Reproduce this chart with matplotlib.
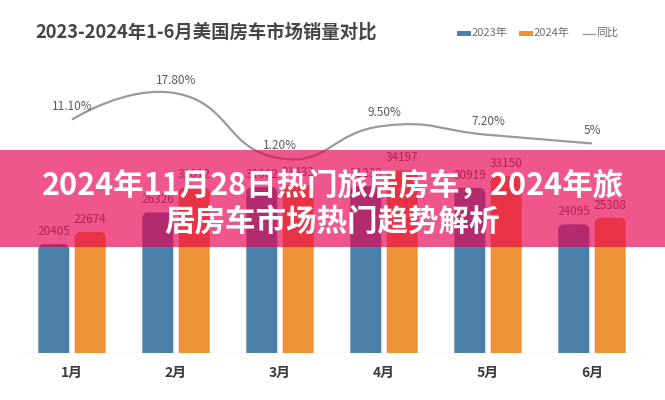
import numpy as np
import matplotlib.pyplot as plt
from matplotlib.patches import FancyBboxPatch, Rectangle, PathPatch
from matplotlib.path import Path
from matplotlib.transforms import Affine2D
from matplotlib.lines import Line2D

plt.rcParams['font.family'] = ['Noto Sans CJK SC', 'DejaVu Sans']

# data
months = ['1月', '2月', '3月', '4月', '5月', '6月']
sales_2023 = [20405, 26326, 31062, 31230, 30919, 24095]
sales_2024 = [22674, 31012, 31433, 34197, 33150, 25308]
yoy = [11.1, 17.8, 1.2, 9.5, 7.2, 5.0]
yoy_labels = ['11.10%', '17.80%', '1.20%', '9.50%', '7.20%', '5%']

blue = '#4b7fa8'
orange = '#ee9238'

W, H = 665, 400
fig = plt.figure(figsize=(W / 100, H / 100), dpi=100)
# pixel coordinates with origin at top-left
px = Affine2D().scale(1 / W, -1 / H).translate(0, 1) + fig.transFigure

ax_box = [20 / W, 47 / H, 624 / W, 320.4 / H]
ax = fig.add_axes(ax_box)
ax.set_xlim(-0.5, 5.5)
ax.set_ylim(0, 60000)
for s in ax.spines.values():
    s.set_visible(False)
ax.set_yticks([])
ax.set_xticks(range(len(months)))
ax.set_xticklabels(months, fontsize=10, fontweight='bold', color='#3a3a3a')
ax.tick_params(axis='x', length=0, pad=9)
ax.axhline(0, color='#e4e4e4', lw=1, zorder=1)

# bars with rounded tops
bw = 0.298
off = 0.175
px_x = 624 / 6
px_y = 320.4 / 60000
r = 6 / px_x
asp = px_x / px_y
for i in range(len(months)):
    for vals, sign, col in [(sales_2023, -1, blue), (sales_2024, 1, orange)]:
        x0 = i + sign * off - bw / 2
        v = vals[i]
        p = FancyBboxPatch((x0, -3000), bw, v + 3000,
                           boxstyle=f"round,pad=0,rounding_size={r}",
                           mutation_aspect=asp, fc=col, ec='none', zorder=2)
        ax.add_patch(p)
        ax.annotate(str(v), (i + sign * off, v), xytext=(0, 9),
                    textcoords='offset points', ha='center', va='center',
                    fontsize=8.5, color='#5a5a5a')

# year-on-year line, smoothed like the original
ax2 = fig.add_axes(ax_box)
ax2.set_xlim(-0.5, 5.5)
ax2.set_ylim(-48.5, 33.3)
ax2.axis('off')
ax2.patch.set_alpha(0)

pts = ax2.transData.transform(np.column_stack([np.arange(len(yoy)), yoy]))
smooth = 0.5
cp_in, cp_out = [], []
for k in range(len(pts)):
    p = pts[k]
    if 0 < k < len(pts) - 1:
        prv, nxt = pts[k - 1], pts[k + 1]
        v = nxt - prv
        d0 = np.hypot(*(p - prv))
        d1 = np.hypot(*(nxt - p))
        ratio = d1 / (d0 + d1)
        cp_in.append(p - v * smooth * (1 - ratio))
        cp_out.append(p + v * smooth * ratio)
    else:
        cp_in.append(p)
        cp_out.append(p)
verts = [pts[0]]
codes = [Path.MOVETO]
for k in range(len(pts) - 1):
    verts += [cp_out[k], cp_in[k + 1], pts[k + 1]]
    codes += [Path.CURVE4] * 3
verts = ax2.transData.inverted().transform(np.array(verts))
ax2.add_patch(PathPatch(Path(verts, codes), fc='none', ec='#9a9a9a', lw=1.6))
for i, (v, lab) in enumerate(zip(yoy, yoy_labels)):
    ax2.annotate(lab, (i, v), xytext=(0, 9.5), textcoords='offset points',
                 ha='center', va='center', fontsize=8.5, color='#5a5a5a')

# title and legend
fig.text(35, 32, '2023-2024年1-6月美国房车市场销量对比', transform=px,
         fontsize=13.2, fontweight='bold', color='#454545', va='center')
leg_items = [(457, blue, '2023年'), (519, orange, '2024年')]
for x, col, lab in leg_items:
    fig.add_artist(Rectangle((x, 36), 14, -5, transform=px, fc=col, ec='none'))
    fig.text(x + 14.5, 33, lab, transform=px, fontsize=8, color='#707070', va='center')
fig.add_artist(Line2D([583, 595], [33.5, 33.5], transform=px, color='#9a9a9a', lw=1))
fig.text(596, 33, '同比', transform=px, fontsize=8, color='#707070', va='center')

# pink banner with headline
fig.add_artist(Rectangle((0, 247), W, -97, transform=px,
                         fc=(232 / 255, 0, 80 / 255), ec='none', alpha=0.66, zorder=5))
fig.text(W / 2, 186, '2024年11月28日热门旅居房车，2024年旅', transform=px,
         fontsize=22, fontweight='bold', color='white', ha='center', va='center', zorder=6)
fig.text(W / 2, 221, '居房车市场热门趋势解析', transform=px,
         fontsize=22, fontweight='bold', color='white', ha='center', va='center', zorder=6)

fig.savefig('out.png', dpi=100)
